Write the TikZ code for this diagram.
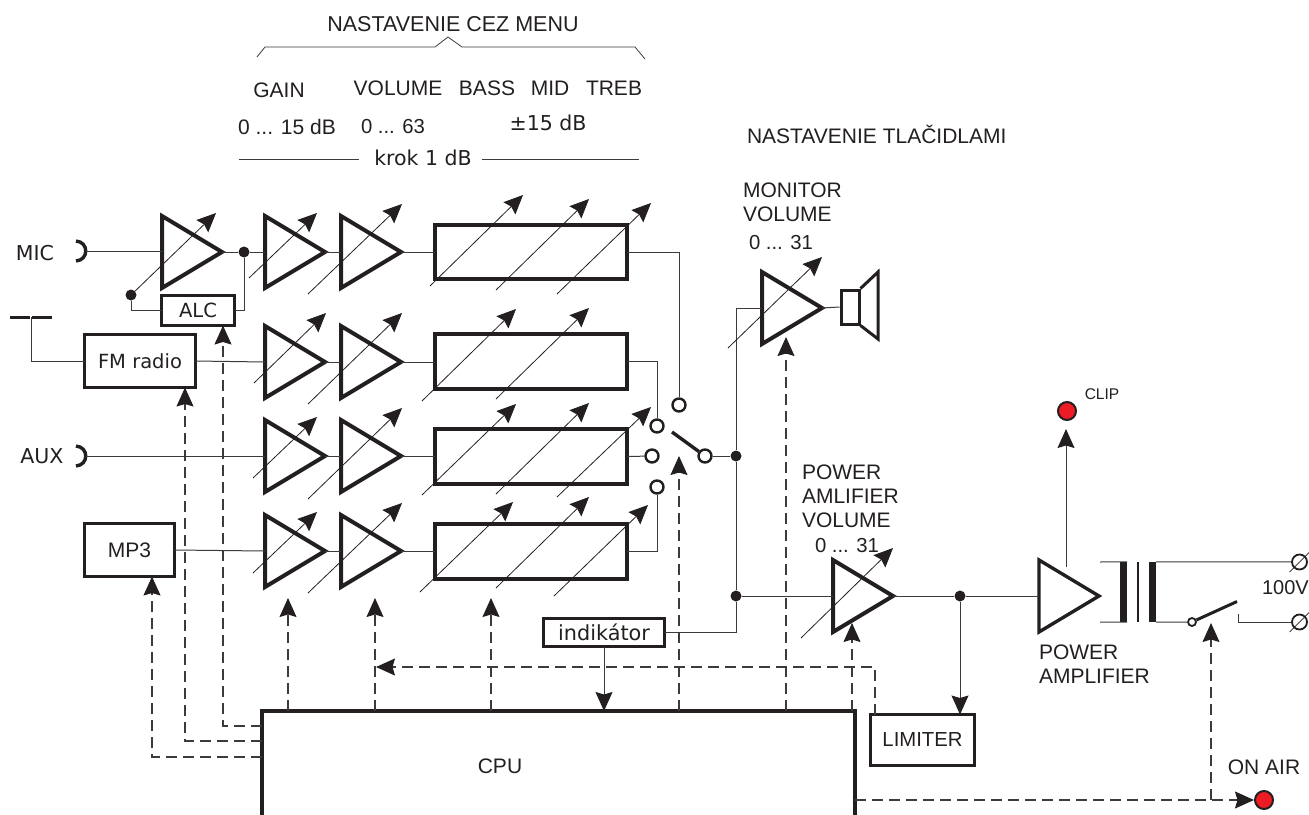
\documentclass[tikz,border=0pt]{standalone}
\usepackage{fontspec}
\setmainfont{Liberation Sans}
\newfontfamily\verdfont{DejaVu Sans}
\usetikzlibrary{arrows.meta,shapes.geometric}
\definecolor{ink}{RGB}{35,31,32}
\definecolor{wire}{RGB}{60,58,58}
\definecolor{ledred}{RGB}{237,28,36}
\tikzset{
  tip/.tip={Stealth[length=19pt,width=17pt,inset=2.5pt,color=ink]},
  wr/.style={draw=wire,line width=1pt},
  wra/.style={wr,-tip},
  dsh/.style={draw=wire,line width=1.1pt,dash pattern=on 11pt off 6pt},
  dsha/.style={dsh,-tip},
  adj/.style={draw=ink,line width=0.8pt,-tip},
  ampl/.style={draw=ink,line width=4pt,isosceles triangle,isosceles triangle stretches,
    shape border rotate=0,minimum width=72pt,minimum height=60pt,inner sep=0pt,outer sep=0pt,anchor=west},
  blk/.style={draw=ink,line width=3.8pt,rectangle,inner sep=0pt,outer sep=0pt,text=ink,
    font=\verdfont\fontsize{19.5}{23}\selectfont},
  lbl/.style={inner sep=0pt,outer sep=0pt,text=ink,font=\fontsize{21}{24}\selectfont},
  rng/.style={lbl,font=\fontsize{20.3}{24}\selectfont},
  vlbl/.style={lbl,font=\verdfont\fontsize{20.5}{24}\selectfont},
  jn/.style={circle,fill=ink,inner sep=0pt,minimum size=11pt},
  swc/.style={circle,draw=ink,fill=white,line width=2.4pt,inner sep=0pt,minimum size=13pt},
  led/.style={circle,draw=ink,fill=ledred,line width=2pt,inner sep=0pt,minimum size=18pt},
  bar/.style={fill=ink,inner sep=0pt,minimum height=60pt},
}
\begin{document}
\begin{tikzpicture}[x=1pt,y=-1pt]
\useasboundingbox (0,0) rectangle (1309,814);
% Texts at the top
\node[lbl,font=\fontsize{21.5}{24}\selectfont] (menu) at (453,24) {NASTAVENIE CEZ MENU};
\draw[wr,line width=0.8pt] (257,57) -- (265,47) -- (435,47) -- (448,37) -- (462,47) -- (635,47) -- (645,59);
\node[lbl] (tgain) at (279,90) {GAIN};
\node[lbl] (tvol) at (398,88) {VOLUME};
\node[lbl] (tbass) at (487,88) {BASS};
\node[lbl] (tmid) at (550,88) {MID};
\node[lbl] (ttreb) at (614,88) {TREB};
\node[lbl] (rgain) at (287,127) {0 ... 15 dB};
\node[rng] (rvol) at (393,127) {0 ... 63};
\node[vlbl] (rton) at (548,123) {±15 dB};
\node[vlbl] (krok) at (423,158) {krok 1 dB};
\coordinate (kra) at (239,159);
\coordinate (krb) at (639,159);
\draw[wr] (kra) -- ([xshift=-15pt]krok.west |- kra);
\draw[wr] ([xshift=10pt]krok.east |- krb) -- (krb);
\node[lbl,anchor=west] (tbtn) at (747,134) {NASTAVENIE TLAČIDLAMI};
\node[lbl,anchor=north west,align=left] (tmon) at (743,183) {MONITOR\\VOLUME};
\node[rng,anchor=west] (rmon) at (749,243) {0 ... 31};
\node[lbl,anchor=north west,align=left] (tpv) at (802,465) {POWER\\AMLIFIER\\VOLUME};
\node[rng,anchor=west] (rpv) at (815,546) {0 ... 31};
\node[lbl,anchor=north west,align=left] (tpa) at (1039,645) {POWER\\AMPLIFIER};
\node[lbl] (air) at (1264,767) {ON AIR};
\node[lbl,font=\fontsize{15.5}{18}\selectfont] (clip) at (1102,394) {CLIP};
\node[lbl,anchor=west,font=\fontsize{20}{24}\selectfont] (hv) at (1262,588) {100V};
% Four channels
\foreach \r/\yc/\ye in {1/252/252,2/362/361.5,3/456/456.5,4/551/551.5} {
  \node[ampl] (ga\r) at (265,\yc) {};
  \node[ampl] (vo\r) at (341,\yc) {};
  \node[blk,minimum width=192.5pt,minimum height=54.5pt] (eq\r) at (531,\ye) {};
  \draw[wr] (ga\r.east) -- (vo\r.west);
  \draw[wr] (vo\r.east) -- (eq\r.west |- vo\r.east);
}
% Inputs
\node[vlbl] (mic) at (35,253) {MIC};
\node[vlbl] (aux) at (42,456) {AUX};
\coordinate (jmic) at (86,251);
\coordinate (jaux) at (86,456);
\foreach \j in {jmic,jaux}
  \draw[draw=ink,line width=3.4pt] (\j) ++(-10,-10) .. controls +(13,1) and +(13,-1) .. +(0,20);
\node[ampl] (am) at (162,252) {};
\node[jn] (jam) at (244,252) {};
\node[jn] (jalc) at (131,295) {};
\node[blk,minimum width=73pt,minimum height=30pt] (alc) at (198,310.5) {ALC};
\node[blk,minimum width=111pt,minimum height=53pt] (fm) at (140,361) {FM radio};
\node[blk,minimum width=90pt,minimum height=53pt,font=\fontsize{21}{24}\selectfont] (mp) at (129.5,550) {MP3};
\draw[wr] (jmic) -- (am.west |- jmic);
\draw[wr] (am.east) -- (jam) -- (ga1.west);
\draw[wr] (jam) |- (alc.east);
\draw[wr] (alc.west) -| (jalc);
\coordinate (ant) at (31,317);
\draw[draw=ink,line width=3pt] (10,317) -- (30,317) (32,317) -- (52,317);
\draw[wr] (ant) |- (fm.west);
\draw[wr] (fm.east) -- (ga2.west);
\draw[wr] (jaux) -- (ga3.west);
\draw[wr] (mp.east) -- (ga4.west);
% Selector
\node[swc] (sw1) at (679,405) {};
\node[swc] (sw2) at (657,426) {};
\node[swc] (sw3) at (652,456) {};
\node[swc] (sw4) at (657,487) {};
\node[swc] (swo) at (705,456) {};
\coordinate (swa) at (672,432);
\draw[draw=ink,line width=3.4pt] (swa) -- (swo);
\draw[wr] (eq1.east) -| (sw1);
\draw[wr] (eq2.east) -| (sw2);
\draw[wr] (eq3.east) -- (sw3);
\draw[wr] (eq4.east) -| (sw4);
\node[jn] (jsw) at (736,456) {};
\node[jn] (jpv) at (736,596) {};
\draw[wr] (swo) -- (jsw) -- (jpv);
% Monitor and power stages
\node[ampl] (mon) at (762,308) {};
\node[draw=ink,line width=3pt,inner sep=0pt,minimum width=18pt,minimum height=34pt] (spk) at (850,307) {};
\draw[draw=ink,line width=3pt] (spk.north east) -- (878,272) -- (878,339) -- (spk.south east);
\draw[wr] (mon.east) -- (spk.west);
\draw[wr] (mon.west) -| (jsw);
\node[ampl] (pv) at (833,596) {};
\node[jn] (jlim) at (960,596) {};
\node[ampl,line width=3.4pt] (pa) at (1039,596) {};
\node[blk,minimum width=121pt,minimum height=28pt,font=\verdfont\fontsize{20.8}{24}\selectfont] (ind) at (604,632.5) {indikátor};
\node[blk,minimum width=104pt,minimum height=51pt,font=\fontsize{20.3}{24}\selectfont] (lim) at (922.5,740) {LIMITER};
\node[blk,line width=4pt,minimum width=593pt,minimum height=130pt] (cpu) at (558.5,776) {};
\node[lbl] (tcpu) at (500,766) {CPU};
\draw[wr] (jpv) -- (pv.west);
\draw[wr] (ind.east) -| (jpv);
\draw[wr] (pv.east) -- (jlim) -- (pa.west);
\draw[wra] (jlim) -- (jlim |- lim.north);
\draw[wra] (ind.south) -- (ind.south |- cpu.north);
\node[led] (ledc) at (1067,411) {};
\node[led] (leda) at (1264,800) {};
\coordinate (clipo) at (1066,567);
\coordinate (clipt) at (1066,429);
\draw[wra] (clipo) -- (clipt);
% Transformer and output
\node[bar,minimum width=7pt] (tra) at (1123.5,592) {};
\node[bar,minimum width=2.2pt] (trb) at (1138,592) {};
\node[bar,minimum width=7pt] (trc) at (1152.5,592) {};
\coordinate (pra) at (1100,562);
\coordinate (prb) at (1100,622);
\draw[wr] (pra) -- (tra.north east);
\draw[wr] (prb) -- (tra.south east);
\foreach \n/\yt in {o1/562,o2/622} {
  \node[circle,draw=ink,line width=1.8pt,inner sep=0pt,minimum size=15pt] (\n) at (1299.5,\yt) {};
  \draw[draw=ink,line width=0.7pt] (\n) ++(-10,10) -- ++(20,-20);
}
\node[swc,line width=1.8pt,minimum size=8pt] (pss) at (1192,622) {};
\coordinate (psb) at (1237,601.5);
\coordinate (psc) at (1238,614);
\draw[draw=ink,line width=3pt] (pss) -- (psb);
\draw[wr] (trc.north east) -- (o1);
\draw[wr] (trc.south east) -- (pss);
\draw[wr] (psc) |- (o2);
% Control lines
\foreach \c/\xc/\yc in {ctla/288/598,ctlb/375/598,ctlc/491/598,ctld/679/456,ctle/786/337,ctlf/852/623} {
  \coordinate (\c) at (\xc,\yc);
  \draw[dsha] (\c |- cpu.north) -- (\c);
}
\coordinate (mpin) at (152,757);
\coordinate (fmin) at (185,741);
\coordinate (alcin) at (223,726);
\draw[dsha] (mpin -| cpu.west) -- (mpin) -- (mpin |- mp.south);
\draw[dsha] (fmin -| cpu.west) -- (fmin) -- (fmin |- fm.south);
\draw[dsha] (alcin -| cpu.west) -- (alcin) -- (alcin |- alc.south);
\coordinate (limo) at (875,667);
\coordinate (limt) at (376,667);
\draw[dsha] (limo |- lim.north) -- (limo) -- (limt);
\coordinate (swin) at (1211,623);
\draw[dsha] (leda -| cpu.east) -- (leda);
\draw[dsha] (swin |- leda) -- (swin);
% Adjusters: mic, then gain, volume, three filter sliders per row
\foreach \sx/\sy/\ex/\ey in {131/295/216/213,
  249/278/317/213, 308/294/402/204, 430/286/523/195, 496/290/589/199, 557/294/651/203,
  254/383/326/313, 308/404/402/313, 422/401/516/309, 496/399/589/308,
  253/478/317/417, 308/499/402/408, 422/495/516/404, 496/494/589/403, 557/497/651/407,
  253/573/317/512, 308/593/402/503, 420/592/513/502, 496/588/589/497, 554/596/648/505,
  728/348/822/257, 801/638/893/548}
  \draw[adj] (\sx,\sy) -- (\ex,\ey);
\end{tikzpicture}
\end{document}
